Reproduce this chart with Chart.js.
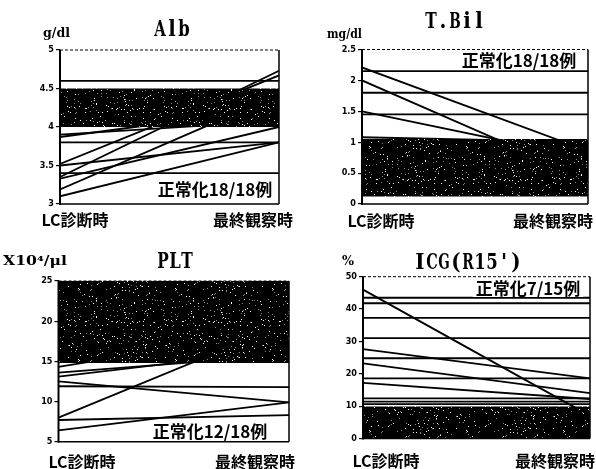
<!DOCTYPE html>
<html>
<head>
<meta charset="utf-8">
<script src="https://cdn.jsdelivr.net/npm/chart.js@4.4.1/dist/chart.umd.min.js"></script>
<style>
  html, body { margin: 0; padding: 0; background: #fff; }
  #wrap { position: relative; width: 596px; height: 469px; overflow: hidden; background: #fff; }
  #wrap canvas { position: absolute; left: 0; top: 0; }
</style>
</head>
<body>
<div id="wrap">
  <canvas id="alb" width="596" height="469"></canvas>
  <canvas id="tbil" width="596" height="469"></canvas>
  <canvas id="plt" width="596" height="469"></canvas>
  <canvas id="icg" width="596" height="469"></canvas>
</div>
<script>
// Time points shared by every panel
const stageLabels = ['LC診断時', '最終観察時'];

// Alb (g/dl): value at LC diagnosis and at last observation, one pair per line
const albStart = [4.6, 3.8, 3.4, 3.9, 3.87, 3.35, 3.52, 3.5, 3.19, 3.1, 3.33];
const albEnd   = [4.6, 3.8, 3.4, 4.08, 4.25, 4.73, 4.67, 3.8, 4.42, 3.8, 4.0];
const albRange = [4.0, 4.5];
const albTicks = [3, 3.5, 4, 4.5, 5];
const albNote  = '正常化18/18例';

// T.Bil (mg/dl)
const tbilStart = [2.15, 1.8, 1.45, 2.21, 2.0, 1.5, 1.08];
const tbilEnd   = [2.15, 1.8, 1.45, 0.86, 0.4, 0.74, 1.0];
const tbilRange = [0.12, 1.05];
const tbilTicks = [0, 0.5, 1, 1.5, 2, 2.5];
const tbilNote  = '正常化18/18例';

// PLT (x10^4/μl)
const pltStart = [14.3, 13.6, 13.1, 12.5, 11.9, 8.0, 7.7, 6.4];
const pltEnd   = [19.0, 15.8, 16.5, 9.9, 11.8, 19.8, 8.3, 9.9];
const pltRange = [14.8, 25];
const pltTicks = [5, 10, 15, 20, 25];
const pltNote  = '正常化12/18例';

// ICG R15 (%)
const icgStart = [46, 43.5, 41.8, 37.3, 31, 27.6, 24.8, 23.2, 18.6, 17.2, 12.4, 11.4, 10.6];
const icgEnd   = [7, 43.5, 41.8, 37.3, 31, 18.6, 24.8, 14.0, 18.6, 12.2, 12.4, 11.4, 10.6];
const icgRange = [0, 9.9];
const icgTicks = [0, 10, 20, 30, 40, 50];
const icgNote  = '正常化7/15例';

// ---- presentation ----
const W = 596, H = 469, Y_AXIS_W = 30;
const TITLE_FONT = 'bold 22px "DejaVu Serif Condensed", "DejaVu Serif", serif';
const UNIT_FONT  = 'bold 13px "DejaVu Serif Condensed", "DejaVu Serif", serif';
const CJK_FONT   = '"Noto Sans CJK JP", "Noto Sans", sans-serif';
const TICK_FONT  = { family: '"DejaVu Sans Condensed", "DejaVu Sans", sans-serif', size: 9, weight: 'bold' };

const panels = [
  { id: 'alb', title: 'Alb', unit: 'g/dl', start: albStart, end: albEnd, range: albRange, ticks: albTicks, note: albNote,
    area: { l: 60, t: 50, r: 279, b: 204 }, titleAt: [172, 30], unitAt: [43, 34], unitW: 27,
    stageX: [75, 253], stageY: 220, noteAt: [215, 190] },
  { id: 'tbil', title: 'T.Bil', unit: 'mg/dl', start: tbilStart, end: tbilEnd, range: tbilRange, ticks: tbilTicks, note: tbilNote,
    area: { l: 362, t: 49.5, r: 588, b: 204 }, titleAt: [455, 22], unitAt: [327, 35], unitW: 35,
    stageX: [381, 553], stageY: 221, noteAt: [519, 61] },
  { id: 'plt', title: 'PLT', unit: 'X10⁴/μl', start: pltStart, end: pltEnd, range: pltRange, ticks: pltTicks, note: pltNote,
    area: { l: 58.5, t: 281, r: 289, b: 441.7 }, titleAt: [175, 262], unitAt: [3, 262], unitW: 64,
    stageX: [82, 255], stageY: 462, noteAt: [210, 432] },
  { id: 'icg', title: "ICG(R15')", unit: '%', start: icgStart, end: icgEnd, range: icgRange, ticks: icgTicks, note: icgNote,
    area: { l: 363, t: 276.7, r: 590, b: 438.5 }, titleAt: [468, 263], unitAt: [342, 262], unitW: 12,
    stageX: [386, 555], stageY: 461, noteAt: [528, 289] }
];

// Black normal-range band with a sparse white grain
function grainPattern(ctx) {
  const c = document.createElement('canvas');
  c.width = 97; c.height = 71;
  const g = c.getContext('2d');
  g.fillStyle = '#000';
  g.fillRect(0, 0, c.width, c.height);
  for (let y = 0; y < c.height; y++) {
    for (let x = 0; x < c.width; x++) {
      let h = Math.imul(x, 374761393) + Math.imul(y, 668265263);
      h = Math.imul(h ^ (h >>> 13), 1274126177);
      h = (h ^ (h >>> 16)) >>> 0;
      const r = h % 100;
      if (r < 2) { g.fillStyle = '#fff'; g.fillRect(x, y, 1, 1); }
      else if (r < 4) { g.fillStyle = '#8a8a8a'; g.fillRect(x, y, 1, 1); }
    }
  }
  return ctx.createPattern(c, 'repeat');
}

// Fixed-pitch text: each glyph centred in its own cell, narrowed if wider than the cell
function drawPitched(ctx, text, cx, cy, cell) {
  const chars = Array.from(text);
  let x = cx - (chars.length * cell) / 2 + cell / 2;
  ctx.textAlign = 'center';
  for (const ch of chars) {
    const w = ctx.measureText(ch).width;
    const k = Math.min(1, (cell - 0.5) / w);
    ctx.save();
    ctx.translate(x, cy);
    ctx.scale(k, 1);
    ctx.fillText(ch, 0, 0);
    ctx.restore();
    x += cell;
  }
}

// Text squeezed or stretched horizontally to a given width
function drawFitted(ctx, text, x, y, width) {
  const w = ctx.measureText(text).width;
  ctx.save();
  ctx.translate(x, y);
  ctx.scale(width / w, 1);
  ctx.textAlign = 'left';
  ctx.fillText(text, 0, 0);
  ctx.restore();
}

function decor(p) {
  return {
    id: 'panelDecor',
    afterDatasetsDraw(chart) {
      const { ctx, chartArea: a } = chart;
      ctx.save();
      // result note with white backing
      ctx.font = 'bold 17px ' + CJK_FONT;
      const w = ctx.measureText(p.note).width;
      ctx.fillStyle = '#fff';
      ctx.fillRect(p.noteAt[0] - w / 2 - 3, p.noteAt[1] - 8, w + 6, 16);
      ctx.fillStyle = '#000';
      ctx.textAlign = 'center';
      ctx.textBaseline = 'middle';
      ctx.fillText(p.note, p.noteAt[0], p.noteAt[1]);
      // plot frame
      ctx.strokeStyle = '#000';
      ctx.lineWidth = 2;
      ctx.beginPath(); ctx.moveTo(a.left, a.top); ctx.lineTo(a.left, a.bottom + 1); ctx.stroke();
      ctx.lineWidth = 1.5;
      ctx.beginPath(); ctx.moveTo(a.right, a.top); ctx.lineTo(a.right, a.bottom);
      ctx.moveTo(a.left, a.bottom); ctx.lineTo(a.right, a.bottom); ctx.stroke();
      ctx.lineWidth = 1;
      ctx.setLineDash([3, 2]);
      ctx.beginPath(); ctx.moveTo(a.left, a.top); ctx.lineTo(a.right, a.top); ctx.stroke();
      ctx.restore();
    },
    afterDraw(chart) {
      const ctx = chart.ctx;
      ctx.save();
      ctx.fillStyle = '#000';
      ctx.textBaseline = 'middle';
      ctx.font = TITLE_FONT;
      drawPitched(ctx, p.title, p.titleAt[0], p.titleAt[1], 12);
      ctx.font = UNIT_FONT;
      drawFitted(ctx, p.unit, p.unitAt[0], p.unitAt[1], p.unitW);
      ctx.font = 'bold 16px ' + CJK_FONT;
      ctx.textAlign = 'center';
      ctx.fillText(stageLabels[0], p.stageX[0], p.stageY);
      ctx.fillText(stageLabels[1], p.stageX[1], p.stageY);
      ctx.restore();
    }
  };
}

for (const p of panels) {
  const canvas = document.getElementById(p.id);
  const ctx = canvas.getContext('2d');
  const band = {
    data: [{ x: 0, y: p.range[1] }, { x: 1, y: p.range[1] }],
    fill: { value: p.range[0] },
    backgroundColor: grainPattern(ctx),
    borderColor: 'rgba(0,0,0,0)',
    borderWidth: 0,
    pointRadius: 0
  };
  const lines = p.start.map((s, i) => ({
    data: [{ x: 0, y: s }, { x: 1, y: p.end[i] }],
    borderColor: '#000',
    borderWidth: 1.8,
    pointRadius: 0,
    fill: false
  }));
  const lo = p.ticks[0], hi = p.ticks[p.ticks.length - 1];
  new Chart(ctx, {
    type: 'line',
    data: { datasets: [band, ...lines] },
    options: {
      responsive: false,
      animation: false,
      devicePixelRatio: 1,
      layout: { padding: { left: p.area.l - Y_AXIS_W, top: p.area.t, right: W - p.area.r, bottom: H - p.area.b } },
      plugins: { legend: { display: false }, tooltip: { enabled: false } },
      scales: {
        x: { type: 'linear', min: 0, max: 1, display: false },
        y: {
          min: lo, max: hi,
          afterBuildTicks: s => { s.ticks = p.ticks.map(v => ({ value: v })); },
          afterFit: s => { s.width = Y_AXIS_W; s.paddingTop = 0; s.paddingBottom = 0; },
          ticks: { font: TICK_FONT, color: '#000', padding: 2, callback: v => String(v) },
          grid: { drawOnChartArea: false, drawTicks: true, tickLength: 4, color: '#000', lineWidth: 1.2 },
          border: { display: false }
        }
      }
    },
    plugins: [decor(p)]
  });
}
</script>
</body>
</html>
